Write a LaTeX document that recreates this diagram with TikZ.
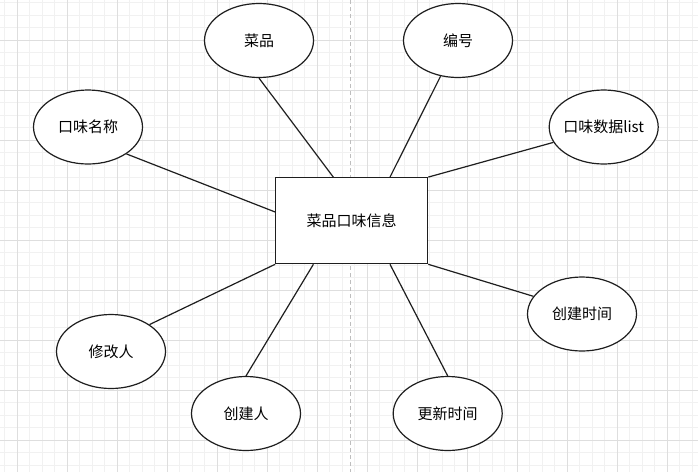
\documentclass[tikz,border=0pt]{standalone}
\usepackage{fontspec}
\usepackage{tikz}
\usetikzlibrary{shapes.geometric,calc}
\newfontfamily\cjk{Noto Sans CJK SC}
\definecolor{erline}{RGB}{30,30,30}
\definecolor{gridminor}{RGB}{241,241,241}
\definecolor{gridmajor}{RGB}{222,222,222}
\definecolor{pagebreak}{RGB}{190,190,190}
\tikzset{
  attr/.style={ellipse, draw=erline, line width=1.2pt, fill=white,
    minimum width=109pt, minimum height=74pt, inner sep=0pt,
    font=\cjk\fontsize{15}{18}\selectfont},
  entity/.style={rectangle, draw=erline, line width=1.2pt, fill=white,
    minimum width=152pt, minimum height=86pt,
    font=\cjk\fontsize{15}{18}\selectfont},
  link/.style={draw=erline, line width=1.2pt}
}

\begin{document}
\begin{tikzpicture}[x=1pt, y=-1pt]
  \useasboundingbox (0,0) rectangle (698,472);

  % === GRID ===
  \fill[white] (0,0) rectangle (698,472);
  \foreach \x in {4.8,17.3,...,698} {
    \draw[gridminor, line width=0.8pt] (\x,0) -- (\x,472);
  }
  \foreach \y in {2.5,15,...,472} {
    \draw[gridminor, line width=0.8pt] (0,\y) -- (698,\y);
  }
  \foreach \x in {17.3,67.3,...,698} {
    \draw[gridmajor, line width=0.8pt] (\x,0) -- (\x,472);
  }
  \foreach \y in {40,90,...,472} {
    \draw[gridmajor, line width=0.8pt] (0,\y) -- (698,\y);
  }

  % Page break line
  \draw[pagebreak, dash pattern=on 4pt off 3pt, line width=1pt]
    (350,0) -- (350,472);

  % === ENTITY ===
  \node[entity] (info) at (351.7,220.7) {菜品口味信息};

  % === ATTRIBUTES ===
  \node[attr] (dish) at (259,40.5) {菜品};
  \node[attr] (id) at (458,40.5) {编号};
  \node[attr] (flavorname) at (88,127) {口味名称};
  \node[attr, inner xsep=-4pt] (flavorlist) at (603.7,127) {口味数据list};
  \node[attr] (modifier) at (111,351.5) {修改人};
  \node[attr] (creator) at (246,413.5) {创建人};
  \node[attr] (createtime) at (582,314) {创建时间};
  \node[attr] (updatetime) at (447.7,413.5) {更新时间};

  % Attachment points on the entity box
  \coordinate (top1) at ($(info.north west)!0.38!(info.north east)$);
  \coordinate (top2) at ($(info.north west)!0.75!(info.north east)$);
  \coordinate (bot1) at ($(info.south west)!0.25!(info.south east)$);
  \coordinate (bot2) at ($(info.south west)!0.75!(info.south east)$);
  \coordinate (left1) at ($(info.north west)!0.4!(info.south west)$);

  % === LINKS ===
  \foreach \a/\b in {
    dish.south/top1,
    id.-116/top2,
    flavorlist.-163/info.north east,
    flavorname.-35/left1,
    modifier.35/info.south west,
    creator.north/bot1,
    createtime.160/info.south east,
    updatetime.north/bot2} {
    \draw[link] (\a) -- (\b);
  }

\end{tikzpicture}
\end{document}
